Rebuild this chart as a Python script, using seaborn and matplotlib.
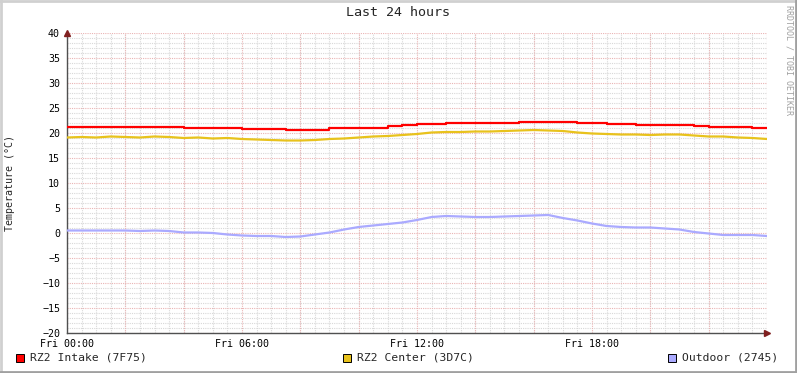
import numpy as np
import pandas as pd
import matplotlib
matplotlib.use('Agg')
import matplotlib.pyplot as plt
import seaborn as sns
from matplotlib.patches import Rectangle
from matplotlib.lines import Line2D

# Temperaturen der letzten 24 Stunden, halbstuendlich (Stunden ab Fri 00:00)
hours = [i * 0.5 for i in range(49)]

intake = [21.3, 21.3, 21.3, 21.3, 21.3, 21.3, 21.3, 21.3,
          21.1, 21.1, 21.1, 21.1,
          20.8, 20.8, 20.8,
          20.6, 20.6, 20.6,
          21.0, 21.0, 21.0, 21.0,
          21.4, 21.6,
          21.8, 21.8,
          22.0, 22.0,
          22.1, 22.1, 22.1,
          22.3, 22.3, 22.3, 22.3,
          22.0, 22.0,
          21.8, 21.8,
          21.7, 21.7, 21.7, 21.7,
          21.5,
          21.3, 21.3, 21.3,
          21.1, 21.1]

center = [19.1, 19.2, 19.1, 19.3, 19.2, 19.1, 19.3, 19.2, 19.0, 19.1,
          18.9, 19.0, 18.8, 18.7, 18.6, 18.5, 18.5, 18.6, 18.8, 18.9,
          19.1, 19.3, 19.4, 19.6, 19.8, 20.1, 20.2, 20.2, 20.3, 20.3,
          20.4, 20.5, 20.6, 20.5, 20.4, 20.1, 19.9, 19.8, 19.7, 19.7,
          19.6, 19.7, 19.7, 19.5, 19.3, 19.3, 19.1, 19.0, 18.8]

outdoor = [0.5, 0.5, 0.5, 0.5, 0.5, 0.4, 0.5, 0.4, 0.1, 0.1,
           0.0, -0.3, -0.5, -0.6, -0.6, -0.8, -0.7, -0.3, 0.1, 0.7,
           1.2, 1.5, 1.8, 2.1, 2.6, 3.2, 3.4, 3.3, 3.2, 3.2,
           3.3, 3.4, 3.5, 3.6, 3.0, 2.5, 1.9, 1.4, 1.2, 1.1,
           1.1, 0.9, 0.7, 0.2, -0.1, -0.4, -0.4, -0.4, -0.6]

series_names = ['RZ2 Intake (7F75)', 'RZ2 Center (3D7C)', 'Outdoor (2745)']
colors = ['#FF0000', '#E8C21C', '#AAAAFF']
tick_hours = [0, 6, 12, 18]
tick_labels = ['Fri 00:00', 'Fri 06:00', 'Fri 12:00', 'Fri 18:00']

df = pd.DataFrame({'hour': hours, 'intake': intake, 'center': center, 'outdoor': outdoor})

sns.set_style('white')
plt.rcParams['font.family'] = ['DejaVu Sans Mono']

W, H = 797, 373
fig = plt.figure(figsize=(W / 100, H / 100), dpi=100)
fig.patch.set_facecolor('white')
ax = fig.add_axes([67 / W, (H - 333) / H, 700 / W, 300 / H])
ax.set_facecolor('white')

# intake springt stufenweise, die anderen laufen weicher
sns.lineplot(data=df, x='hour', y='intake', color=colors[0], drawstyle='steps-post',
             lw=1.6, ax=ax, zorder=5)
sns.lineplot(data=df, x='hour', y='center', color=colors[1], lw=1.6, ax=ax, zorder=5)
sns.lineplot(data=df, x='hour', y='outdoor', color=colors[2], lw=1.6, ax=ax, zorder=5)

ax.set_xlim(0, 24)
ax.set_ylim(-20, 40)

# gitter
ax.set_xticks(np.arange(0, 24.01, 0.5), minor=True)
ax.set_yticks(np.arange(-20, 40.01, 1), minor=True)
ax.set_xticks(tick_hours)
ax.set_xticklabels(tick_labels)
ax.set_yticks(np.arange(-20, 41, 5))
ax.grid(which='minor', color='#d8d8d8', lw=0.8, ls=(0, (1, 1)), zorder=0)
for h in np.arange(0, 24.01, 2):
    ax.axvline(h, color='#eab4b4', lw=0.8, ls=(0, (1, 1)), zorder=1)
for v in np.arange(-20, 40.01, 5):
    ax.axhline(v, color='#eab4b4', lw=0.8, ls=(0, (1, 1)), zorder=1)

ax.tick_params(axis='both', which='major', labelsize=7.2, length=2,
               color='#555555', pad=2, direction='out', colors='black')
ax.tick_params(axis='both', which='minor', length=0)
ax.tick_params(axis='x', pad=2)
ax.tick_params(axis='y', pad=3)

for s in ['top', 'right']:
    ax.spines[s].set_visible(False)
for s in ['left', 'bottom']:
    ax.spines[s].set_color('#505050')
    ax.spines[s].set_linewidth(1)

# pfeile an den achsen
ax.plot(1, 0, marker='>', color='#802020', ms=4, transform=ax.transAxes,
        clip_on=False, zorder=6)
ax.plot(0, 1, marker='^', color='#802020', ms=4, transform=ax.transAxes,
        clip_on=False, zorder=6)

ax.set_xlabel('')
ax.set_ylabel('Temperature (°C)', fontsize=7.2)
ax.yaxis.set_label_coords(-52 / 700, 0.5)

fig.text(398 / W, 1 - 13 / H, 'Last 24 hours', ha='center', va='center', fontsize=9.6)
fig.text(789 / W, 1 - 60 / H, 'RRDTOOL / TOBI OETIKER', ha='center', va='center',
         rotation=270, fontsize=6, color='#a0a0a0')

# legende
legend_x = [16, 343, 668]
for lx, name, col in zip(legend_x, series_names, colors):
    fig.patches.append(Rectangle((lx / W, 1 - 362 / H), 8 / W, 8 / H,
                                 transform=fig.transFigure, facecolor=col,
                                 edgecolor='black', lw=0.7))
    fig.text((lx + 14) / W, 1 - 358 / H, name, ha='left', va='center', fontsize=8.2)

# rahmen
fig.lines.append(Line2D([0, 1], [1 - 1 / H, 1 - 1 / H], transform=fig.transFigure, color='#d0d0d0', lw=2))
fig.lines.append(Line2D([1 / W, 1 / W], [0, 1], transform=fig.transFigure, color='#d0d0d0', lw=2))
fig.lines.append(Line2D([0, 1], [1 / H, 1 / H], transform=fig.transFigure, color='#a0a0a0', lw=2))
fig.lines.append(Line2D([1 - 1 / W, 1 - 1 / W], [0, 1], transform=fig.transFigure, color='#a0a0a0', lw=2))

fig.savefig('out.png', dpi=100, facecolor='white')
